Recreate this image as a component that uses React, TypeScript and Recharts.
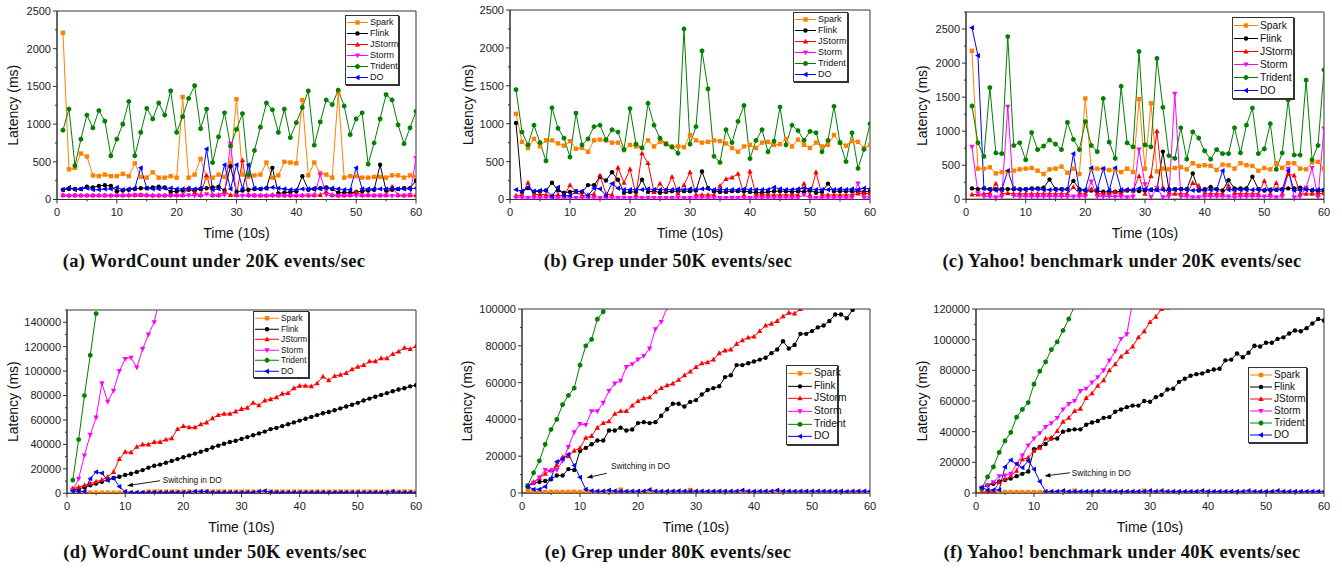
import React from 'react';
import { LineChart, Line, XAxis, YAxis, Legend, ReferenceArea, ReferenceLine } from 'recharts';

const FONT = '"Liberation Sans", Arial, sans-serif';

// time steps (10s each)
const time = [
  1, 2, 3, 4, 5, 6, 7, 8, 9, 10, 11, 12, 13, 14, 15, 16, 17, 18, 19, 20,
  21, 22, 23, 24, 25, 26, 27, 28, 29, 30, 31, 32, 33, 34, 35, 36, 37, 38, 39, 40,
  41, 42, 43, 44, 45, 46, 47, 48, 49, 50, 51, 52, 53, 54, 55, 56, 57, 58, 59, 60,
];
const xTicks = [0, 5, 10, 15, 20, 25, 30, 35, 40, 45, 50, 55, 60];
const yTicksLow = [0, 250, 500, 750, 1000, 1250, 1500, 1750, 2000, 2250, 2500];
const yTicksC = [0, 250, 500, 750, 1000, 1250, 1500, 1750, 2000, 2250, 2500, 2750];
const yTicksD = [0, 10000, 20000, 30000, 40000, 50000, 60000, 70000, 80000, 90000, 100000, 110000, 120000, 130000, 140000, 150000];
const yTicksE = [0, 10000, 20000, 30000, 40000, 50000, 60000, 70000, 80000, 90000, 100000];
const yTicksF = [0, 10000, 20000, 30000, 40000, 50000, 60000, 70000, 80000, 90000, 100000, 110000, 120000];

// (a) WordCount 20K
const aSpark = [2210, 400, 420, 610, 570, 320, 310, 330, 310, 310, 340, 310, 480, 300, 290, 360, 290, 290, 310, 290, 1360, 290, 330, 540, 290, 290, 330, 300, 480, 1330, 330, 300, 320, 330, 490, 290, 320, 500, 490, 480, 1320, 320, 490, 350, 330, 290, 1420, 290, 310, 310, 290, 290, 300, 300, 290, 320, 320, 290, 320, 300];
const aFlink = [130, 140, 140, 140, 170, 160, 180, 190, 180, 110, 120, 130, 140, 150, 150, 160, 170, 160, 100, 110, 120, 130, 120, 140, 150, 160, 170, 120, 440, 100, 120, 130, 140, 140, 150, 420, 80, 90, 100, 110, 310, 130, 140, 150, 160, 140, 90, 90, 90, 100, 110, 120, 130, 460, 120, 130, 140, 150, 150, 250];
const aJStorm = [60, 55, 55, 55, 55, 55, 55, 55, 55, 60, 55, 60, 60, 60, 60, 55, 55, 55, 60, 60, 60, 150, 90, 60, 320, 60, 60, 100, 60, 60, 520, 60, 55, 55, 55, 60, 55, 55, 55, 55, 55, 55, 60, 60, 100, 60, 55, 55, 60, 100, 60, 60, 55, 55, 60, 170, 60, 55, 55, 55];
const aStorm = [50, 48, 52, 50, 51, 49, 50, 52, 48, 50, 50, 49, 55, 60, 50, 48, 50, 51, 50, 49, 50, 55, 50, 48, 70, 50, 50, 60, 740, 50, 49, 50, 52, 50, 48, 50, 51, 50, 49, 50, 50, 52, 50, 330, 60, 50, 48, 50, 51, 50, 49, 50, 50, 52, 50, 48, 50, 51, 60, 550];
const aTrident = [920, 1200, 450, 800, 1120, 950, 1180, 1040, 580, 800, 1000, 1300, 580, 890, 1210, 1070, 1280, 1120, 1440, 890, 1100, 1340, 1510, 940, 1200, 490, 830, 1150, 710, 930, 1140, 330, 650, 960, 1280, 1190, 890, 1200, 820, 1020, 1220, 1440, 720, 1030, 1320, 1260, 1450, 1240, 860, 1070, 1150, 470, 750, 1070, 1390, 1320, 990, 740, 950, 1170];
const aDO = [130, 160, 130, 140, 150, 130, 130, 140, 140, 160, 130, 140, 150, 420, 150, 140, 140, 150, 150, 140, 140, 150, 140, 150, 670, 130, 140, 460, 140, 460, 140, 460, 150, 140, 150, 160, 150, 140, 130, 130, 140, 140, 150, 140, 150, 150, 140, 130, 130, 420, 140, 140, 140, 140, 140, 150, 140, 140, 140, 150];

// (b) Grep 50K
const bSpark = [1130, 760, 680, 800, 700, 780, 780, 740, 710, 770, 670, 680, 630, 780, 790, 780, 750, 750, 650, 720, 700, 680, 780, 700, 760, 740, 700, 700, 690, 850, 780, 750, 760, 780, 770, 740, 680, 630, 700, 720, 680, 750, 760, 720, 730, 800, 700, 790, 720, 680, 750, 700, 720, 850, 750, 710, 770, 760, 680, 720];
const bFlink = [1010, 100, 150, 100, 110, 120, 220, 120, 90, 100, 110, 100, 190, 190, 300, 250, 360, 260, 90, 100, 100, 260, 100, 110, 90, 100, 110, 110, 110, 110, 120, 370, 150, 110, 100, 100, 110, 110, 110, 100, 90, 90, 100, 110, 110, 110, 100, 110, 100, 120, 90, 100, 210, 110, 110, 110, 110, 110, 100, 110];
const bJStorm = [50, 60, 220, 60, 70, 60, 50, 60, 50, 190, 100, 50, 60, 70, 320, 70, 60, 420, 220, 400, 60, 610, 480, 100, 210, 120, 300, 80, 190, 360, 60, 60, 60, 60, 180, 270, 290, 340, 60, 370, 60, 60, 60, 60, 60, 60, 60, 60, 210, 60, 360, 60, 60, 60, 60, 60, 60, 80, 80, 80];
const bStorm = [25, 22, 20, 21, 20, 22, 20, 21, 20, 22, 20, 21, 20, 22, 20, 21, 20, 20, 22, 20, 21, 20, 22, 20, 21, 20, 20, 22, 20, 21, 20, 22, 20, 21, 20, 20, 22, 20, 21, 20, 22, 20, 21, 20, 20, 22, 20, 21, 60, 20, 21, 20, 22, 20, 21, 20, 20, 210, 22, 20];
const bTrident = [1450, 890, 720, 980, 750, 510, 1210, 940, 810, 560, 1140, 720, 800, 960, 980, 790, 920, 890, 660, 1200, 730, 680, 1270, 980, 810, 730, 690, 610, 2250, 730, 960, 1960, 1460, 570, 490, 920, 750, 1030, 1240, 540, 780, 920, 630, 770, 1220, 720, 980, 910, 780, 900, 880, 630, 780, 1230, 750, 500, 880, 410, 660, 1000];
const bDO = [130, 110, 160, 110, 120, 120, 40, 160, 50, 50, 100, 110, 50, 150, 140, 50, 210, 150, 130, 130, 130, 130, 140, 130, 130, 130, 130, 140, 130, 140, 130, 140, 140, 130, 130, 130, 130, 130, 140, 130, 130, 130, 130, 160, 140, 130, 130, 140, 150, 140, 130, 130, 130, 130, 140, 130, 140, 130, 150, 140];

// (c) Yahoo 20K
const cSpark = [2180, 450, 450, 470, 380, 400, 400, 420, 440, 450, 460, 420, 370, 440, 450, 480, 390, 450, 370, 1480, 440, 450, 450, 430, 430, 400, 450, 400, 1470, 450, 1410, 410, 450, 440, 460, 470, 440, 530, 490, 500, 490, 430, 510, 500, 450, 530, 500, 490, 420, 460, 440, 530, 460, 530, 530, 450, 440, 540, 550, 450];
const cFlink = [160, 150, 160, 150, 150, 150, 150, 150, 150, 150, 160, 160, 170, 290, 150, 150, 150, 270, 150, 130, 130, 120, 110, 110, 110, 120, 130, 130, 120, 130, 140, 140, 700, 150, 150, 150, 150, 380, 130, 150, 180, 150, 130, 280, 160, 160, 160, 330, 150, 130, 140, 140, 150, 160, 160, 170, 160, 130, 120, 120];
const cJStorm = [70, 70, 80, 90, 230, 80, 90, 80, 80, 80, 80, 80, 80, 80, 80, 80, 80, 180, 80, 80, 150, 80, 80, 80, 110, 80, 140, 130, 340, 80, 340, 1000, 170, 80, 80, 80, 80, 240, 200, 80, 80, 80, 80, 200, 90, 80, 80, 80, 80, 270, 80, 240, 80, 370, 350, 80, 80, 80, 80, 90];
const cStorm = [770, 90, 40, 40, 30, 40, 1360, 50, 40, 40, 40, 40, 40, 40, 40, 40, 40, 40, 40, 40, 260, 40, 40, 40, 40, 40, 30, 40, 730, 220, 30, 170, 30, 40, 1550, 40, 40, 30, 30, 40, 40, 40, 40, 40, 30, 40, 40, 40, 40, 40, 40, 30, 40, 450, 30, 40, 170, 460, 30, 1040];
const cTrident = [1370, 830, 630, 1640, 680, 670, 2390, 790, 830, 580, 980, 730, 780, 870, 810, 730, 1130, 880, 730, 1140, 790, 700, 1480, 840, 600, 1660, 830, 770, 2170, 800, 770, 2070, 1350, 640, 600, 1050, 590, 990, 900, 710, 590, 730, 670, 670, 1050, 680, 1090, 1340, 670, 740, 1110, 440, 680, 1460, 650, 650, 1750, 580, 790, 1900];
const cDO = [2520, 2110, 160, 140, 130, 140, 420, 160, 140, 140, 150, 150, 140, 140, 140, 140, 140, 670, 130, 140, 460, 150, 450, 130, 460, 140, 140, 140, 160, 150, 140, 140, 140, 130, 140, 150, 140, 130, 140, 130, 140, 140, 420, 140, 140, 140, 140, 140, 140, 140, 140, 140, 140, 420, 130, 140, 140, 140, 140, 150];

// (d) WordCount 50K
const dSpark = [3000, 1500, 800, 500, 500, 500, 500, 500, 500, 500, 500, 500, 500, 1300, 1300, 1400, 1300, 1400, 1300, 1300, 1400, 1300, 1300, 1300, 1300, 1400, 1400, 1300, 1300, 1300, 1400, 1300, 1300, 1300, 1500, 1400, 1300, 1300, 1300, 1400, 1300, 1300, 1400, 1300, 1300, 1300, 1400, 1300, 1300, 1400, 1300, 1300, 1300, 1300, 1300, 1400, 1300, 1400, 1300, 1300];
const dFlink = [2500, 3500, 5000, 6500, 8000, 9500, 11000, 12500, 13500, 15000, 16000, 17500, 19000, 21000, 22500, 23500, 25000, 26500, 28000, 29500, 31000, 32500, 34000, 35500, 37500, 39000, 40500, 42000, 43000, 44500, 46000, 47500, 49000, 50500, 52500, 53500, 55000, 56500, 58000, 59500, 61000, 62500, 64000, 65500, 66500, 68000, 69500, 71000, 72500, 74000, 76000, 77500, 79000, 80500, 82000, 83500, 85000, 86000, 87500, 88500];
const dJStorm = [4000, 5000, 6500, 8000, 9500, 11000, 13500, 17500, 28000, 34000, 33500, 38000, 40000, 40000, 42000, 42000, 44000, 45000, 52500, 55000, 54000, 54000, 56500, 58000, 61500, 64000, 65000, 65000, 67000, 69000, 70000, 74000, 72000, 76000, 77000, 78500, 81500, 82000, 86000, 88000, 88000, 87500, 90000, 95500, 92500, 96000, 97000, 98500, 101500, 103500, 105000, 108000, 108000, 110500, 110500, 114000, 116000, 119000, 118000, 120500];
const dStorm = [2500, 12000, 31000, 48000, 62000, 90000, 75000, 84000, 100000, 110000, 111000, 103000, 118000, 130000, 140000, 162000];
const dTrident = [10800, 44000, 80000, 113000, 147000];
const dDO = [2000, 1500, 1500, 12000, 17500, 16500, 10500, 12500, 5500, 1500, 600, 700, 800, 700, 900, 700, 700, 800, 700, 700, 800, 1500, 1500, 1500, 800, 700, 700, 800, 700, 700, 800, 700, 1500, 2000, 1000, 800, 700, 700, 800, 700, 700, 800, 700, 800, 700, 700, 800, 700, 700, 800, 700, 700, 800, 700, 700, 1500, 700, 800, 700, 700];

// (e) Grep 80K
const eSpark = [1500, 800, 700, 600, 650, 600, 550, 600, 650, 600, 600, 550, 600, 600, 700, 600, 1800, 600, 650, 600, 600, 700, 600, 550, 600, 650, 700, 600, 1600, 600, 600, 650, 600, 700, 600, 550, 600, 650, 600, 600, 600, 650, 600, 550, 600, 600, 650, 600, 600, 550, 600, 650, 600, 600, 600, 550, 600, 650, 600, 600];
const eFlink = [3500, 5500, 6000, 6500, 7500, 9500, 9500, 13000, 12500, 23000, 24500, 26500, 28500, 28500, 34000, 34000, 35500, 34000, 34500, 38000, 38500, 38000, 38500, 42000, 45500, 48500, 48500, 47000, 49500, 50500, 53500, 56000, 57000, 58000, 63000, 64000, 69500, 69500, 70500, 71500, 72500, 73500, 76000, 78000, 82500, 78500, 80500, 86500, 86500, 88000, 90000, 91000, 93500, 97000, 97000, 95000, 99500, 102000];
const eJStorm = [4000, 6000, 8000, 10500, 12500, 15000, 19500, 20000, 23000, 24500, 30000, 31000, 35500, 38000, 39000, 43000, 44500, 44500, 47500, 50000, 51500, 52000, 55000, 57000, 58500, 59500, 61500, 64000, 66000, 68500, 70500, 71000, 72500, 76000, 77500, 78000, 81000, 83000, 84500, 85000, 88000, 91000, 92000, 93500, 96000, 98000, 97500, 100000, 102000];
const eStorm = [4000, 5500, 8500, 12500, 12000, 12500, 17500, 25000, 33000, 37500, 37000, 44500, 44500, 49000, 55500, 59500, 61000, 68500, 70000, 72500, 74500, 78500, 89000, 93000, 100500, 110000];
const eTrident = [4000, 11000, 17500, 26500, 34500, 40000, 48000, 53000, 57000, 69500, 80000, 83500, 94500, 98500, 108000];
const eDO = [3500, 2000, 2000, 3500, 8000, 17000, 18500, 21000, 15000, 8500, 2000, 1200, 1000, 1000, 1500, 1100, 1000, 900, 1000, 1000, 1000, 1800, 1000, 900, 1000, 1000, 1100, 1000, 1000, 1000, 1000, 900, 1000, 1000, 1000, 1000, 1000, 1500, 1000, 900, 1000, 1000, 1000, 1500, 1000, 1000, 900, 1000, 1000, 1000, 1000, 1000, 900, 1000, 1000, 800, 1000, 1000, 1000, 900];

// (f) Yahoo 40K
const fSpark = [800, 600, 600, 600, 650, 600, 600, 550, 600, 600, 600, 650, 600, 600, 600, 600, 1500, 600, 600, 650, 600, 600, 600, 550, 600, 600, 650, 600, 1500, 600, 600, 600, 650, 600, 600, 550, 600, 600, 600, 650, 600, 600, 600, 600, 550, 600, 650, 600, 600, 600, 600, 650, 600, 600, 550, 600, 600, 650, 600, 600];
const fFlink = [3500, 5000, 6000, 7500, 8500, 9500, 11000, 12500, 14000, 28500, 30000, 32000, 35500, 35500, 40000, 41000, 41500, 41500, 44500, 46000, 47000, 49000, 49500, 53000, 54500, 56000, 57000, 57000, 60000, 59500, 62500, 64000, 67500, 68000, 72500, 74500, 76500, 77500, 78000, 79500, 80500, 81000, 86500, 87000, 91000, 88500, 91500, 96000, 95500, 98000, 98000, 100500, 101500, 104000, 106000, 105500, 107500, 110500, 113500, 112500];
const fJStorm = [500, 1000, 1000, 7000, 9000, 11000, 14500, 22000, 23000, 27500, 29500, 35500, 36000, 40500, 46500, 49000, 53500, 55000, 62000, 65000, 70000, 73500, 80000, 84000, 89000, 92000, 95500, 101500, 105500, 111500, 115000, 120000, 121000];
const fStorm = [3500, 5000, 7000, 11000, 11500, 12500, 19000, 24500, 31000, 35500, 39000, 43000, 45500, 49000, 54500, 58000, 60000, 66500, 68000, 72000, 75500, 80000, 86500, 92500, 100500, 103500, 125000];
const fTrident = [3000, 10500, 17000, 26500, 34000, 39500, 49500, 54500, 59000, 71000, 79500, 85500, 93500, 98500, 106000, 113500, 122000];
const fDO = [3500, 2000, 2000, 2000, 17000, 21500, 19000, 16500, 21000, 15500, 7500, 1000, 1000, 1000, 1500, 1000, 1000, 1000, 1000, 1000, 1000, 1500, 1000, 1000, 1000, 1000, 1000, 1000, 1000, 1500, 1000, 1500, 1000, 1000, 1000, 1000, 1000, 1000, 1500, 1000, 1000, 1000, 1000, 1000, 1000, 1000, 1500, 1000, 1000, 1000, 1000, 1500, 1000, 1000, 1000, 1000, 1000, 1000, 1000, 1000];

type Shape = 'square' | 'circle' | 'up' | 'down' | 'hex' | 'left';
const SERIES: { key: string; color: string; shape: Shape }[] = [
  { key: 'Spark', color: '#FF8000', shape: 'square' },
  { key: 'Flink', color: '#000000', shape: 'circle' },
  { key: 'JStorm', color: '#FF0000', shape: 'up' },
  { key: 'Storm', color: '#FF00FF', shape: 'down' },
  { key: 'Trident', color: '#008000', shape: 'hex' },
  { key: 'DO', color: '#0000FF', shape: 'left' },
];

type SeriesSet = Record<string, number[]>;

const toRows = (s: SeriesSet) =>
  time.map((t, i) => {
    const r: any = { t };
    SERIES.forEach((d) => {
      const v = s[d.key][i];
      r[d.key] = v === undefined ? null : v;
    });
    return r;
  });

function Mark({ shape, cx, cy, color, s = 2.2 }: { shape: Shape; cx: number; cy: number; color: string; s?: number }) {
  switch (shape) {
    case 'square':
      return <rect x={cx - s} y={cy - s} width={2 * s} height={2 * s} fill={color} />;
    case 'circle':
      return <circle cx={cx} cy={cy} r={s} fill={color} />;
    case 'up':
      return <polygon points={`${cx},${cy - s * 1.3} ${cx - s * 1.2},${cy + s * 0.9} ${cx + s * 1.2},${cy + s * 0.9}`} fill={color} />;
    case 'down':
      return <polygon points={`${cx},${cy + s * 1.3} ${cx - s * 1.2},${cy - s * 0.9} ${cx + s * 1.2},${cy - s * 0.9}`} fill={color} />;
    case 'left':
      return <polygon points={`${cx - s * 1.3},${cy} ${cx + s * 0.9},${cy - s * 1.2} ${cx + s * 0.9},${cy + s * 1.2}`} fill={color} />;
    default: {
      const r = s * 1.2;
      const pts = [0, 1, 2, 3, 4, 5]
        .map((k) => {
          const a = (Math.PI / 3) * k + Math.PI / 6;
          return `${cx + r * Math.cos(a)},${cy + r * Math.sin(a)}`;
        })
        .join(' ');
      return <polygon points={pts} fill={color} />;
    }
  }
}

const dotFor = (shape: Shape, color: string) => (p: any) => {
  if (p.cx == null || p.cy == null || p.value == null) return <g key={`d${p.index}`} />;
  return (
    <g key={`d${p.index}`}>
      <Mark shape={shape} cx={p.cx} cy={p.cy} color={color} />
    </g>
  );
};

type LegendBox = { x: number; y: number; w: number; row: number; font: number; sample: number };
type Note = { from: [number, number]; to: [number, number]; dx: number; dy: number };

type PanelCfg = {
  id: string;
  left: number;
  plot: [number, number, number, number];
  yMax: number;
  yMajor: number;
  yTicks: number[];
  tickFont: number;
  yLabelX: number;
  legend: LegendBox;
  note?: Note;
  series: SeriesSet;
};

const PANELS: PanelCfg[] = [
  {
    id: 'a', left: 0, plot: [57, 11, 416, 199.5], yMax: 2500, yMajor: 500, yTicks: yTicksLow, tickFont: 11, yLabelX: 13,
    legend: { x: 345, y: 15, w: 54, row: 11, font: 9, sample: 21 },
    series: { Spark: aSpark, Flink: aFlink, JStorm: aJStorm, Storm: aStorm, Trident: aTrident, DO: aDO },
  },
  {
    id: 'b', left: 450, plot: [510, 10, 870, 199.5], yMax: 2500, yMajor: 500, yTicks: yTicksLow, tickFont: 11, yLabelX: 468,
    legend: { x: 793, y: 12, w: 55, row: 11, font: 9, sample: 21 },
    series: { Spark: bSpark, Flink: bFlink, JStorm: bJStorm, Storm: bStorm, Trident: bTrident, DO: bDO },
  },
  {
    id: 'c', left: 890, plot: [966, 12, 1324, 199.3], yMax: 2750, yMajor: 500, yTicks: yTicksC, tickFont: 11, yLabelX: 922,
    legend: { x: 1232, y: 17, w: 62, row: 13, font: 10.3, sample: 24 },
    series: { Spark: cSpark, Flink: cFlink, JStorm: cJStorm, Storm: cStorm, Trident: cTrident, DO: cDO },
  },
  {
    id: 'd', left: 0, plot: [67, 310, 416, 493.3], yMax: 150000, yMajor: 20000, yTicks: yTicksD, tickFont: 11, yLabelX: 13,
    legend: { x: 253, y: 311, w: 56, row: 10.5, font: 8.3, sample: 24 },
    note: { from: [16.0, 10300], to: [10.3, 6200], dx: 2.7, dy: 2 },
    series: { Spark: dSpark, Flink: dFlink, JStorm: dJStorm, Storm: dStorm, Trident: dTrident, DO: dDO },
  },
  {
    id: 'e', left: 450, plot: [522, 309, 870, 493], yMax: 100000, yMajor: 20000, yTicks: yTicksE, tickFont: 11, yLabelX: 467,
    legend: { x: 786, y: 365, w: 52, row: 12.7, font: 10.3, sample: 24 },
    note: { from: [14.6, 10700], to: [11.15, 8300], dx: 4.3, dy: -4 },
    series: { Spark: eSpark, Flink: eFlink, JStorm: eJStorm, Storm: eStorm, Trident: eTrident, DO: eDO },
  },
  {
    id: 'f', left: 890, plot: [976, 309, 1324, 493], yMax: 120000, yMajor: 20000, yTicks: yTicksF, tickFont: 11, yLabelX: 922,
    legend: { x: 1248, y: 367, w: 59, row: 12, font: 10, sample: 22 },
    note: { from: [16.2, 13200], to: [11.8, 11100], dx: 1.7, dy: 3 },
    series: { Spark: fSpark, Flink: fFlink, JStorm: fJStorm, Storm: fStorm, Trident: fTrident, DO: fDO },
  },
];

const CAPTIONS = [
  { text: '(a) WordCount under 20K events/sec', x: 214, y: 266.5 },
  { text: '(b) Grep under 50K events/sec', x: 668, y: 266.5 },
  { text: '(c) Yahoo! benchmark under 20K events/sec', x: 1122, y: 266.5 },
  { text: '(d) WordCount under 50K events/sec', x: 215, y: 558 },
  { text: '(e) Grep under 80K events/sec', x: 668, y: 558 },
  { text: '(f) Yahoo! benchmark under 40K events/sec', x: 1122, y: 558 },
];

const TS = 4; // tick size
const TM = 2; // tick margin

const xTick = (font: number) => (p: any) => {
  const v = p.payload.value;
  const ay = p.y - TS - TM;
  const major = v % 10 === 0;
  return (
    <g>
      <line x1={p.x} x2={p.x} y1={ay} y2={ay + (major ? 4 : 2)} stroke="#333" />
      {major && (
        <text x={p.x} y={ay + 16.5} textAnchor="middle" fontSize={font} fontFamily={FONT} fill="#222">
          {v}
        </text>
      )}
    </g>
  );
};

const yTick = (font: number, majorStep: number) => (p: any) => {
  const v = p.payload.value;
  const ax = p.x + TS + TM;
  const major = v % majorStep === 0;
  return (
    <g>
      <line x1={ax} x2={ax - (major ? 4 : 2)} y1={p.y} y2={p.y} stroke="#333" />
      {major && (
        <text x={ax - 6} y={p.y + 3.9} textAnchor="end" fontSize={font} fontFamily={FONT} fill="#222">
          {v}
        </text>
      )}
    </g>
  );
};

const arrowShape = (note: Note) => (p: any) => {
  const { x1, y1, x2, y2 } = p;
  const ang = Math.atan2(y2 - y1, x2 - x1);
  const L = 6;
  const hw = 2.2;
  const bx = x2 - L * Math.cos(ang);
  const by = y2 - L * Math.sin(ang);
  const pts = `${x2},${y2} ${bx - hw * Math.sin(ang)},${by + hw * Math.cos(ang)} ${bx + hw * Math.sin(ang)},${by - hw * Math.cos(ang)}`;
  return (
    <g>
      <line x1={x1} y1={y1} x2={bx} y2={by} stroke="#000" strokeWidth={0.9} />
      <polygon points={pts} fill="#000" />
      <text x={x1 + note.dx} y={y1 + note.dy} fontSize={8.3} fontFamily={FONT} fill="#111">
        Switching in DO
      </text>
    </g>
  );
};

const renderLegend = (lg: LegendBox) => () => (
  <div
    style={{
      boxSizing: 'border-box',
      width: lg.w,
      border: '1px solid #333',
      boxShadow: '1px 1px 0 #333',
      background: '#fff',
      padding: '1px 0',
      fontFamily: FONT,
      fontSize: lg.font,
      color: '#111',
    }}
  >
    {SERIES.map((s) => (
      <div key={s.key} style={{ display: 'flex', alignItems: 'center', height: lg.row, lineHeight: `${lg.row}px` }}>
        <svg width={lg.sample + 2} height={lg.row} style={{ display: 'block', flex: 'none' }}>
          <line x1={1} x2={lg.sample + 1} y1={lg.row / 2} y2={lg.row / 2} stroke={s.color} strokeWidth={1} />
          <Mark shape={s.shape} cx={lg.sample / 2 + 1} cy={lg.row / 2} color={s.color} />
        </svg>
        <span style={{ marginLeft: 1, whiteSpace: 'nowrap' }}>{s.key}</span>
      </div>
    ))}
  </div>
);

function Panel({ cfg }: { cfg: PanelCfg }) {
  const [x0, y0, x1, y1] = cfg.plot;
  const top = y0 - 6;
  const W = x1 + 8 - cfg.left;
  const H = y1 - top + 48;
  const rows = toRows(cfg.series);
  const midX = (x0 + x1) / 2 - cfg.left;
  const midY = (y0 + y1) / 2 - top;

  return (
    <div style={{ position: 'absolute', left: cfg.left, top }}>
      <LineChart width={W} height={H} data={rows} margin={{ top: 6, right: 8, bottom: 0, left: 0 }}>
        <XAxis
          dataKey="t"
          type="number"
          domain={[0, 60]}
          ticks={xTicks}
          interval={0}
          height={48}
          tickSize={TS}
          tickMargin={TM}
          tickLine={false}
          axisLine={{ stroke: '#333' }}
          tick={xTick(cfg.tickFont)}
          allowDataOverflow
          label={{
            content: () => (
              <text x={midX} y={y1 - top + 38.5} textAnchor="middle" fontSize={14} fontFamily={FONT} fill="#111">
                Time (10s)
              </text>
            ),
          }}
        />
        <YAxis
          type="number"
          domain={[0, cfg.yMax]}
          ticks={cfg.yTicks}
          interval={0}
          width={x0 - cfg.left}
          tickSize={TS}
          tickMargin={TM}
          tickLine={false}
          axisLine={{ stroke: '#333' }}
          tick={yTick(cfg.tickFont, cfg.yMajor)}
          allowDataOverflow
          label={{
            content: () => {
              const lx = cfg.yLabelX - cfg.left;
              return (
                <text
                  x={lx}
                  y={midY}
                  dy={5}
                  transform={`rotate(-90 ${lx} ${midY})`}
                  textAnchor="middle"
                  fontSize={14}
                  fontFamily={FONT}
                  fill="#111"
                >
                  Latency (ms)
                </text>
              );
            },
          }}
        />
        <ReferenceArea x1={0} x2={60} y1={0} y2={cfg.yMax} fill="none" fillOpacity={0} stroke="#333" strokeWidth={1} ifOverflow="visible" />
        {SERIES.map((s) => (
          <Line
            key={s.key}
            type="linear"
            dataKey={s.key}
            stroke={s.color}
            strokeWidth={1}
            dot={dotFor(s.shape, s.color)}
            activeDot={false}
            isAnimationActive={false}
            connectNulls={false}
          />
        ))}
        {cfg.note && (
          <ReferenceLine
            segment={[
              { x: cfg.note.from[0], y: cfg.note.from[1] },
              { x: cfg.note.to[0], y: cfg.note.to[1] },
            ]}
            ifOverflow="visible"
            shape={arrowShape(cfg.note)}
          />
        )}
        <Legend
          layout="vertical"
          align="center"
          verticalAlign="middle"
          wrapperStyle={{ left: cfg.legend.x - cfg.left, top: cfg.legend.y - top, width: cfg.legend.w, height: 'auto' }}
          content={renderLegend(cfg.legend)}
        />
      </LineChart>
    </div>
  );
}

export default function App() {
  return (
    <div style={{ position: 'absolute', left: 0, top: 0, width: 1342, height: 569, background: '#fff', overflow: 'hidden' }}>
      {PANELS.map((p) => (
        <Panel key={p.id} cfg={p} />
      ))}
      <svg width={1342} height={569} style={{ position: 'absolute', left: 0, top: 0, pointerEvents: 'none' }}>
        {CAPTIONS.map((c) => (
          <text
            key={c.text}
            x={c.x}
            y={c.y}
            textAnchor="middle"
            fontFamily='"Liberation Serif", "Times New Roman", serif'
            fontWeight="bold"
            fontSize={18.5}
            letterSpacing={0.3}
            fill="#111"
          >
            {c.text}
          </text>
        ))}
      </svg>
    </div>
  );
}
